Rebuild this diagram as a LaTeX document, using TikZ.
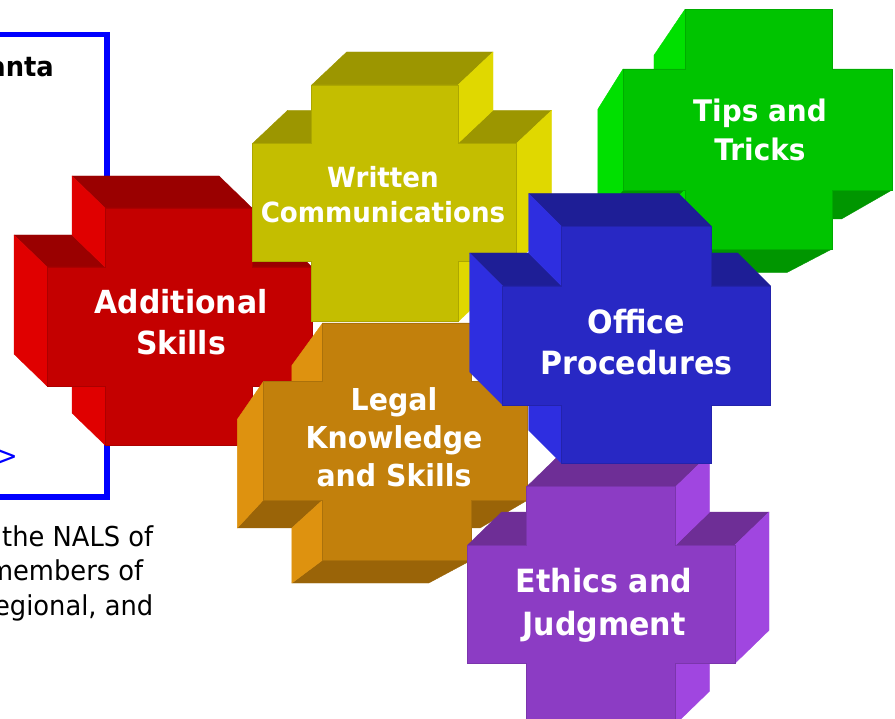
\documentclass[tikz,border=0pt]{standalone}
\usepackage{fontspec}
\setmainfont{DejaVu Sans}[FakeStretch=0.94]
\usetikzlibrary{calc}
\definecolor{redF}{HTML}{C40000}\definecolor{redT}{HTML}{9A0000}\definecolor{redS}{HTML}{E00000}
\definecolor{yelF}{HTML}{C4BE00}\definecolor{yelT}{HTML}{9C9600}\definecolor{yelS}{HTML}{E0D800}
\definecolor{grnF}{HTML}{00C400}\definecolor{grnB}{HTML}{009600}\definecolor{grnS}{HTML}{00E000}
\definecolor{bluF}{HTML}{2828C4}\definecolor{bluT}{HTML}{1E1E96}\definecolor{bluS}{HTML}{2E2EE0}
\definecolor{orgF}{HTML}{C2800C}\definecolor{orgB}{HTML}{9A6408}\definecolor{orgS}{HTML}{DE920F}
\definecolor{purF}{HTML}{8C3CC4}\definecolor{purT}{HTML}{6E2E96}\definecolor{purS}{HTML}{A046E0}
% front outline of a cross: name, x1,x2,x3,x4, y1,y2,y3,y4
\newcommand\crossfront[9]{%
  \coordinate (#1-1) at (#3,#6);
  \coordinate (#1-2) at (#4,#6);
  \coordinate (#1-3) at (#4,#7);
  \coordinate (#1-4) at (#5,#7);
  \coordinate (#1-5) at (#5,#8);
  \coordinate (#1-6) at (#4,#8);
  \coordinate (#1-7) at (#4,#9);
  \coordinate (#1-8) at (#3,#9);
  \coordinate (#1-9) at (#3,#8);
  \coordinate (#1-10) at (#2,#8);
  \coordinate (#1-11) at (#2,#7);
  \coordinate (#1-12) at (#3,#7);}
\newcommand\backshift[3]{\foreach \i in {1,...,12}{\coordinate (#1-b\i) at ($(#1-\i)+(#2,#3)$);}}
\newcommand\backpersp[4]{\foreach \i in {1,...,12}{\coordinate (#1-b\i) at ($(#1-\i)!#4!(#2,#3)$);}}
\newcommand\sideface[4]{\filldraw[sideface,fill=#4,draw=#4] (#1-#2) -- (#1-#3) -- (#1-b#3) -- (#1-b#2) -- cycle;}
\newcommand\frontface[2]{\filldraw[frontface,fill=#2,draw=#2!88!black] (#1-1) -- (#1-2) -- (#1-3) -- (#1-4) -- (#1-5) -- (#1-6) -- (#1-7) -- (#1-8) -- (#1-9) -- (#1-10) -- (#1-11) -- (#1-12) -- cycle;}
\tikzset{
  sideface/.style={line width=0.4pt, line join=round},
  frontface/.style={line width=0.8pt},
  lbl/.style={text=white, inner sep=0pt, anchor=base},
  bodytext/.style={text=black, inner sep=0pt, anchor=base east, font=\fontsize{27.4}{33}\selectfont},
}
\begin{document}
\begin{tikzpicture}[x=1pt,y=-1pt]
\useasboundingbox (0,0) rectangle (895,719);
\clip (0,0) rectangle (895,719);
\fill[white] (0,0) rectangle (895,719);
% left text panel (cut off by the picture's edge)
\draw[blue, line width=5.5pt] (-20,34.5) rectangle (107,497);
\node[bodytext, font=\bfseries\fontsize{27.4}{33}\selectfont] (tAnta) at (54,77) {anta};
\node[bodytext, text=blue] (tGt) at (18,465) {>};
\node[bodytext] (tL1) at (153.5,546) {the NALS of};
\node[bodytext] (tL2) at (143.5,580) {members of};
\node[bodytext] (tL3) at (153.5,615) {egional, and};
% Additional Skills (red, depth up-left)
\crossfront{cA}{47}{105}{252}{312}{208}{267}{386}{445}
\backshift{cA}{-33}{-32}
\sideface{cA}{1}{2}{redT}\sideface{cA}{3}{4}{redT}\sideface{cA}{11}{12}{redT}
\sideface{cA}{8}{9}{redS}\sideface{cA}{10}{11}{redS}\sideface{cA}{12}{1}{redS}
\frontface{cA}{redF}
\node[lbl, font=\bfseries\fontsize{31.8}{38}\selectfont] (lA1) at (181,314) {Additional};
\node[lbl, font=\bfseries\fontsize{31.8}{38}\selectfont] (lA2) at (181,355) {Skills};
% Written Communications (yellow, depth up-right)
\crossfront{cW}{252.7}{311.7}{458}{516.7}{85}{143.3}{261.7}{321.7}
\backshift{cW}{35}{-33}
\sideface{cW}{1}{2}{yelT}\sideface{cW}{3}{4}{yelT}\sideface{cW}{11}{12}{yelT}
\sideface{cW}{2}{3}{yelS}\sideface{cW}{4}{5}{yelS}\sideface{cW}{6}{7}{yelS}
\frontface{cW}{yelF}
\node[lbl, font=\bfseries\fontsize{27.8}{33}\selectfont] (lW1) at (383,187.3) {Written};
\node[lbl, font=\bfseries\fontsize{27.8}{33}\selectfont] (lW2) at (383,222.7) {Communications};
% Legal Knowledge and Skills (orange, depth down-left, perspective)
\crossfront{cL}{263.3}{322.7}{471.7}{527.7}{323}{381.7}{500}{560}
\backpersp{cL}{-53}{841}{0.082}
\sideface{cL}{5}{6}{orgB}\sideface{cL}{7}{8}{orgB}\sideface{cL}{9}{10}{orgB}
\sideface{cL}{8}{9}{orgS}\sideface{cL}{10}{11}{orgS}\sideface{cL}{12}{1}{orgS}
\frontface{cL}{orgF}
\node[lbl, font=\bfseries\fontsize{30.2}{36}\selectfont] (lL1) at (394,410.7) {Legal};
\node[lbl, font=\bfseries\fontsize{30.2}{36}\selectfont] (lL2) at (394,449) {Knowledge};
\node[lbl, font=\bfseries\fontsize{30.2}{36}\selectfont] (lL3) at (394,486.7) {and Skills};
% Tips and Tricks (green, depth down-left, perspective)
\crossfront{cT}{623}{685}{832}{892}{9.3}{69}{190}{249}
\backpersp{cT}{355}{498}{0.094}
\sideface{cT}{5}{6}{grnB}\sideface{cT}{7}{8}{grnB}\sideface{cT}{9}{10}{grnB}
\sideface{cT}{8}{9}{grnS}\sideface{cT}{10}{11}{grnS}\sideface{cT}{12}{1}{grnS}
\frontface{cT}{grnF}
\node[lbl, font=\bfseries\fontsize{29.7}{36}\selectfont] (lT1) at (760,121.7) {Tips and};
\node[lbl, font=\bfseries\fontsize{29.7}{36}\selectfont] (lT2) at (760,161) {Tricks};
% Ethics and Judgment (purple, depth up-right)
\crossfront{cE}{467.7}{526.7}{675.7}{735}{486.7}{545}{663.3}{724}
\backshift{cE}{34}{-33}
\sideface{cE}{1}{2}{purT}\sideface{cE}{3}{4}{purT}\sideface{cE}{11}{12}{purT}
\sideface{cE}{2}{3}{purS}\sideface{cE}{4}{5}{purS}\sideface{cE}{6}{7}{purS}
\frontface{cE}{purF}
\node[lbl, font=\bfseries\fontsize{32}{38}\selectfont] (lE1) at (604,592.7) {Ethics and};
\node[lbl, font=\bfseries\fontsize{32}{38}\selectfont] (lE2) at (604,635) {Judgment};
% Office Procedures (blue, depth up-left)
\crossfront{cO}{502.7}{561.7}{711.7}{770.7}{226.7}{286}{405}{463.3}
\backshift{cO}{-33}{-33}
\sideface{cO}{1}{2}{bluT}\sideface{cO}{3}{4}{bluT}\sideface{cO}{11}{12}{bluT}
\sideface{cO}{8}{9}{bluS}\sideface{cO}{10}{11}{bluS}\sideface{cO}{12}{1}{bluS}
\frontface{cO}{bluF}
\node[lbl, font=\bfseries\fontsize{32}{38}\selectfont] (lO1) at (636.5,333.3) {Office};
\node[lbl, font=\bfseries\fontsize{32}{38}\selectfont] (lO2) at (636.5,375) {Procedures};
\end{tikzpicture}
\end{document}
